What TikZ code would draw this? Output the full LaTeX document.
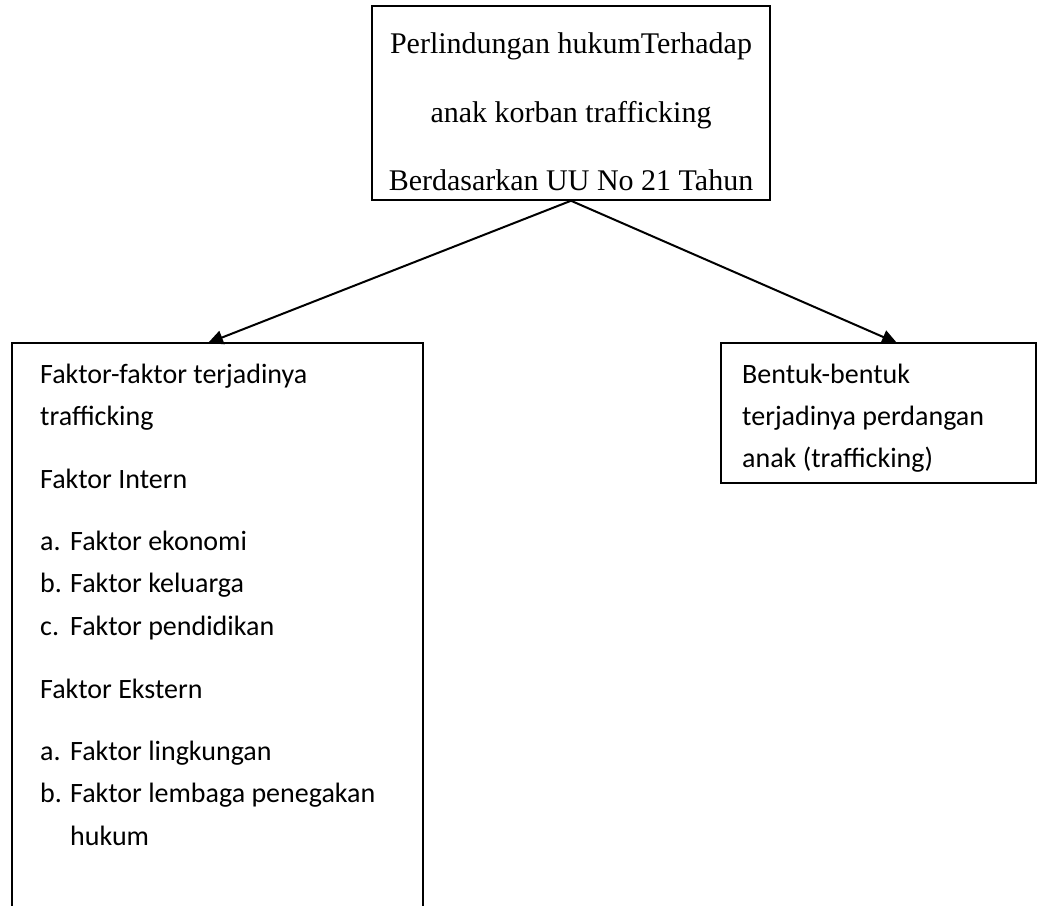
\documentclass[tikz,border=0pt]{standalone}
\usepackage{fontspec}
\setmainfont{Liberation Serif}
\newfontfamily\calfont{Carlito}
\usetikzlibrary{arrows.meta}
\begin{document}
\begin{tikzpicture}[x=1pt,y=-1pt,
  box/.style={draw,line width=1.5pt,inner sep=0pt},
  serif/.style={font=\fontsize{30}{36}\selectfont, anchor=base, inner sep=0pt},
  sans/.style={font=\calfont\fontsize{28}{33}\selectfont, anchor=base west, inner sep=0pt},
  conn/.style={line width=2pt,-{Triangle[length=15pt,width=14pt]}}]
\useasboundingbox (0,0) rectangle (1046,905);
% boxes
\node[box, minimum width=398pt, minimum height=194pt] (top) at (571,103) {};
\node[inner sep=0pt, minimum width=411pt, minimum height=600pt] (left) at (217.5,643) {};
\draw[line width=1.5pt] (left.south west) |- (left.north east) -- (left.south east);
\node[box, minimum width=315pt, minimum height=140pt] (right) at (878.5,413) {};
% top texts
\node[serif] (t1) at (571,53) {Perlindungan hukumTerhadap};
\node[serif] (t2) at (571,122) {anak korban trafficking};
\node[serif] (t3) at (571,190) {Berdasarkan UU No 21 Tahun};
% left texts
\node[sans] (l1) at (40,383) {Faktor-faktor terjadinya};
\node[sans] (l2) at (40,425) {trafficking};
\node[sans] (l3) at (40,488) {Faktor Intern};
\node[sans] (l4) at (40,550) {a.};
\node[sans] (l4b) at (70,550) {Faktor ekonomi};
\node[sans] (l5) at (40,592) {b.};
\node[sans] (l5b) at (70,592) {Faktor keluarga};
\node[sans] (l6) at (40,635) {c.};
\node[sans] (l6b) at (70,635) {Faktor pendidikan};
\node[sans] (l7) at (40,698) {Faktor Ekstern};
\node[sans] (l8) at (40,760) {a.};
\node[sans] (l8b) at (70,760) {Faktor lingkungan};
\node[sans] (l9) at (40,802) {b.};
\node[sans] (l9b) at (70,802) {Faktor lembaga penegakan};
\node[sans] (l10) at (70,845) {hukum};
% right texts
\node[sans] (r1) at (742,383) {Bentuk-bentuk};
\node[sans] (r2) at (742,425) {terjadinya perdangan};
\node[sans] (r3) at (742,467) {anak (trafficking)};
% connectors
\coordinate (lt) at (208,343);
\coordinate (rt) at (897,343);
\draw[conn] (top.south) -- (lt);
\draw[conn] (top.south) -- (rt);
\end{tikzpicture}
\end{document}
